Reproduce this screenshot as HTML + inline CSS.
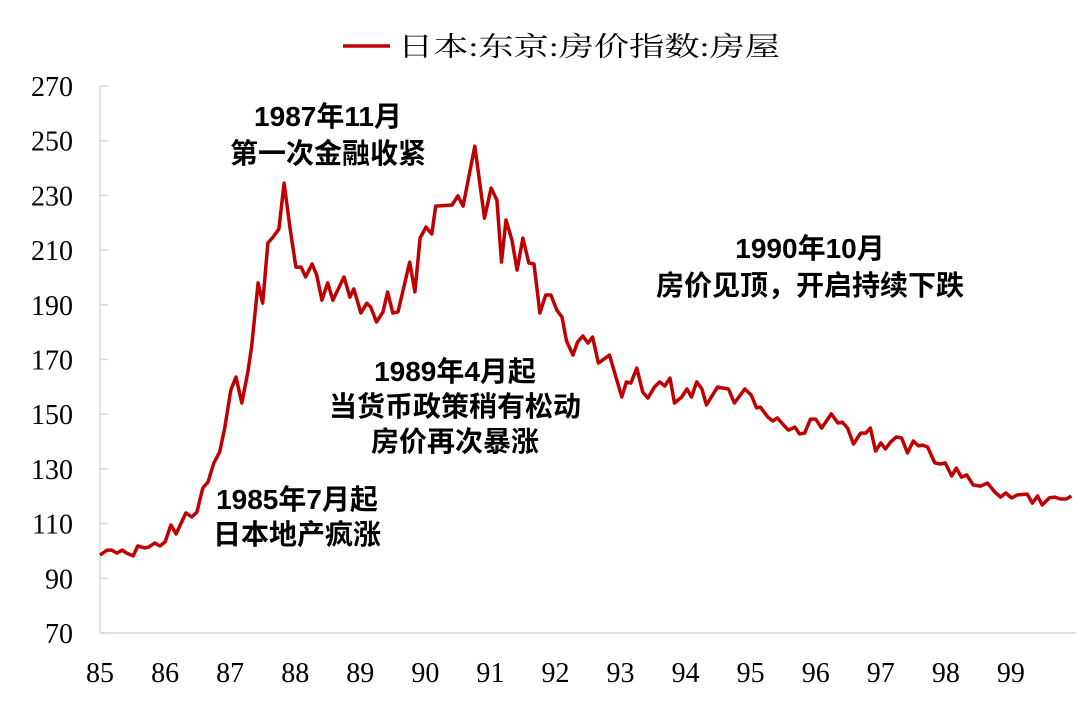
<!DOCTYPE html>
<html><head><meta charset="utf-8"><style>
html,body{margin:0;padding:0;background:#fff;}
svg{display:block;}
.yl{font-family:"Liberation Serif",serif;font-size:28px;fill:#000;}
.ann{font-family:"Liberation Sans","Noto Sans CJK SC",sans-serif;font-size:28px;font-weight:bold;fill:#000;}
</style></head><body>
<svg id="chart" width="1080" height="712" viewBox="0 0 1080 712" xmlns="http://www.w3.org/2000/svg">
<g id="legend">
<line x1="343" y1="46" x2="390" y2="46" stroke="#c00000" stroke-width="3.5"/>
<text x="398" y="56" textLength="382" lengthAdjust="spacingAndGlyphs" style="font-family:'Liberation Serif','Noto Serif CJK SC',serif;font-size:27px;">日本:东京:房价指数:房屋</text>
</g>
<g id="axes"></g>
<g id="series"></g>
<g>
<text class="ann" x="328" y="126" text-anchor="middle">1987年11月</text>
<text class="ann" x="328" y="163" text-anchor="middle">第一次金融收紧</text>
<text class="ann" x="810" y="258" text-anchor="middle">1990年10月</text>
<text class="ann" x="810" y="295" text-anchor="middle">房价见顶，开启持续下跌</text>
<text class="ann" x="455" y="381" text-anchor="middle">1989年4月起</text>
<text class="ann" x="455" y="416" text-anchor="middle">当货币政策稍有松动</text>
<text class="ann" x="455" y="451" text-anchor="middle">房价再次暴涨</text>
<text class="ann" x="297" y="509" text-anchor="middle">1985年7月起</text>
<text class="ann" x="297" y="544" text-anchor="middle">日本地产疯涨</text>
</g>
</svg>
<script>
const times=[85.00,85.11,85.18,85.26,85.34,85.41,85.51,85.58,85.69,85.75,85.84,85.92,86.00,86.09,86.17,86.32,86.41,86.49,86.58,86.66,86.75,86.84,86.92,87.01,87.09,87.18,87.27,87.33,87.43,87.50,87.58,87.66,87.75,87.83,87.92,88.01,88.09,88.16,88.26,88.33,88.41,88.50,88.58,88.75,88.84,88.90,89.01,89.10,89.16,89.25,89.35,89.42,89.50,89.58,89.76,89.84,89.92,90.01,90.10,90.16,90.41,90.50,90.58,90.76,90.91,91.01,91.10,91.17,91.24,91.33,91.41,91.50,91.59,91.67,91.76,91.85,91.93,92.02,92.10,92.17,92.27,92.34,92.42,92.50,92.57,92.66,92.83,93.02,93.09,93.16,93.25,93.34,93.42,93.52,93.60,93.68,93.76,93.83,93.94,94.02,94.09,94.17,94.25,94.32,94.49,94.66,94.75,94.91,95.01,95.09,95.15,95.26,95.34,95.41,95.52,95.58,95.68,95.75,95.83,95.92,96.00,96.09,96.24,96.34,96.41,96.49,96.58,96.69,96.77,96.84,96.92,97.00,97.07,97.15,97.24,97.32,97.41,97.50,97.58,97.64,97.72,97.83,97.92,97.99,98.09,98.16,98.24,98.32,98.42,98.53,98.64,98.75,98.84,98.92,99.01,99.10,99.25,99.33,99.41,99.48,99.59,99.67,99.76,99.85,99.93];
const values=[98.5,100.3,100.3,99.2,100.3,99.2,98.2,101.8,101.1,101.4,102.9,101.8,103.3,109.5,106.2,113.9,112.4,114.2,123.0,125.2,132.2,136.2,145.3,158.8,163.6,154.1,165.1,174.6,198.0,190.6,212.6,214.8,217.7,234.5,218.1,203.8,203.8,200.2,204.9,200.9,191.7,198.0,191.7,200.2,192.8,195.8,187.0,190.6,189.2,183.7,187.4,194.7,187.0,187.4,205.6,194.7,214.4,218.4,215.9,226.1,226.5,229.8,226.1,248.0,221.7,232.7,228.3,205.6,221.0,213.7,202.7,214.4,205.3,204.9,187.0,193.6,193.6,188.1,185.5,176.8,171.6,176.4,178.6,176.0,178.2,168.7,171.6,156.3,161.8,161.4,166.9,158.1,155.9,159.9,161.8,160.3,163.2,154.1,156.3,159.2,156.3,161.8,159.2,153.4,159.9,159.2,154.1,159.2,157.0,152.3,152.6,149.0,147.5,148.6,145.7,144.2,145.3,142.8,143.1,148.2,148.2,144.9,150.1,146.8,147.1,144.9,139.1,143.1,143.1,144.9,136.5,139.5,137.3,139.8,141.7,141.3,135.8,140.2,138.4,138.7,138.0,132.2,131.8,132.2,127.4,130.3,127.0,127.8,124.1,123.7,124.8,121.6,119.7,121.2,119.4,120.5,120.8,117.5,120.1,116.8,119.4,119.7,119.0,119.0,120.1];
const yTicks=[70,90,110,130,150,170,190,210,230,250,270];
const xTickLabels=["85","86","87","88","89","90","91","92","93","94","95","96","97","98","99"];

const NS="http://www.w3.org/2000/svg";
const X0=100,X1=1076,Y0=633,Y1=86;
const xScale=t=>X0+(t-85)*(X1-X0)/15;
const yScale=v=>Y0-(v-70)*(Y0-Y1)/200;
function mk(tag,attrs,parent){const e=document.createElementNS(NS,tag);for(const k in attrs)e.setAttribute(k,attrs[k]);parent.appendChild(e);return e;}
const axes=document.getElementById('axes');
const ya=mk('line',{x1:X0,y1:yScale(270),x2:X0,y2:Y0,stroke:'#d9d9d9','stroke-width':1.5},axes);


const xa=mk('line',{x1:X0,y1:Y0,x2:X1,y2:Y0,stroke:'#d9d9d9','stroke-width':1.5},axes);


yTicks.forEach(v=>{
  const tk=mk('line',{x1:X0,y1:yScale(v),x2:X0+8,y2:yScale(v),stroke:'#d9d9d9','stroke-width':1.5},axes);
  
  
  const tx=mk('text',{x:73,y:yScale(v)+10,'text-anchor':'end',class:'yl'},axes);
  
  
  tx.textContent=v;
});
xTickLabels.forEach((s,i)=>{
  const tx=mk('text',{x:xScale(85+i),y:682,'text-anchor':'middle',class:'yl'},axes);
  
  
  tx.textContent=s;
});
const d=times.map((t,i)=>(i?'L':'M')+xScale(t).toFixed(1)+' '+yScale(values[i]).toFixed(1)).join(' ');
const p=mk('path',{d:d,fill:'none',stroke:'#c00000','stroke-width':3.5,'stroke-linejoin':'round'},document.getElementById('series'));


</script>
</body></html>
